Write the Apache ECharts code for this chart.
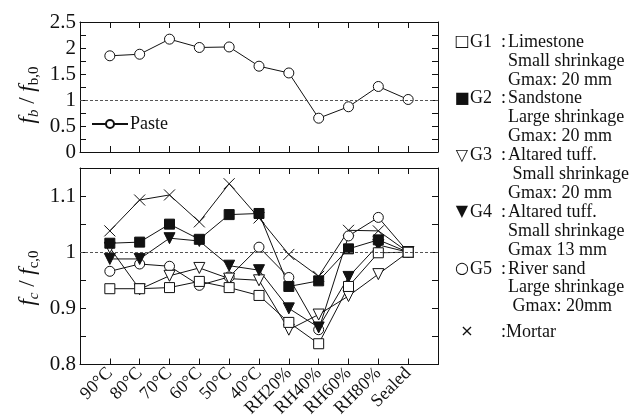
<!DOCTYPE html>
<html>
<head>
<meta charset="utf-8">
<script src="https://cdn.jsdelivr.net/npm/echarts@6/dist/echarts.min.js"></script>
<style>
  html, body { margin: 0; padding: 0; background: #fff; }
  #chart { width: 643px; height: 420px; }
</style>
</head>
<body>
<div id="chart"></div>
<script>
// Curing conditions along the x axis
const categories = ['90°C', '80°C', '70°C', '60°C', '50°C', '40°C', 'RH20%', 'RH40%', 'RH60%', 'RH80%', 'Sealed'];

// Upper panel: cement paste, f_b / f_b,0
const paste = [1.85, 1.88, 2.17, 2.01, 2.02, 1.65, 1.52, 0.65, 0.87, 1.26, 1.01];

// Lower panel: concretes and mortar, f_c / f_c,0
const g1 = [0.935, 0.935, 0.937, 0.948, 0.937, 0.923, 0.875, 0.837, 0.939, 0.999, 1.0];
const g2 = [1.016, 1.018, 1.050, 1.023, 1.067, 1.069, 0.939, 0.949, 1.006, 1.022, 1.0];
const g3 = [1.008, 0.934, 0.958, 0.972, 0.953, 0.950, 0.862, 0.889, 0.922, 0.961, 1.0];
const g4 = [0.988, 0.988, 1.025, 1.020, 0.976, 0.968, 0.900, 0.866, 0.956, 1.013, 1.0];
const g5 = [0.966, 0.979, 0.975, 0.941, 0.956, 1.009, 0.955, 0.862, 1.029, 1.062, 1.0];
const mortar = [1.038, 1.093, 1.102, 1.054, 1.122, 1.061, 0.996, 0.957, 1.039, 1.038, 1.0];

// Legend wording for the aggregate groups
const groupLegend = [
  { sym: '□', code: 'G1', lines: ['Limestone', 'Small shrinkage', 'Gmax: 20 mm'] },
  { sym: '■', code: 'G2', lines: ['Sandstone', 'Large shrinkage', 'Gmax: 20 mm'] },
  { sym: '▽', code: 'G3', lines: ['Altared tuff.', ' Small shrinkage', 'Gmax: 20 mm'] },
  { sym: '▼', code: 'G4', lines: ['Altared tuff.', 'Small shrinkage', 'Gmax 13 mm'] },
  { sym: '○', code: 'G5', lines: ['River sand', 'Large shrinkage', ' Gmax: 20mm'] }
];
const mortarLegend = { sym: '×', text: ':Mortar' };

const SERIF = '"Liberation Serif", "Times New Roman", serif';
const BLACK = '#111';

const pts = arr => arr.map((v, i) => [i, v]);

function frameX(gridIndex, position, withLabels) {
  return {
    type: 'value', gridIndex, position, min: -1, max: 11, interval: 1,
    axisLine: { show: true, onZero: false, lineStyle: { color: BLACK, width: 1 } },
    axisTick: { show: true, inside: true, length: 6, lineStyle: { color: BLACK } },
    splitLine: { show: false },
    axisLabel: withLabels ? {
      show: true, rotate: 45, margin: 6, color: BLACK,
      fontFamily: SERIF, fontSize: 18,
      formatter: v => (categories[v] !== undefined ? categories[v] : '')
    } : { show: false }
  };
}

function frameY(gridIndex, position, min, max, step, labelStep, withLabels) {
  return {
    type: 'value', gridIndex, position, min, max, interval: step,
    axisLine: { show: true, onZero: false, lineStyle: { color: BLACK, width: 1 } },
    axisTick: { show: true, inside: true, length: 6, lineStyle: { color: BLACK } },
    splitLine: { show: false },
    axisLabel: withLabels ? {
      show: true, margin: 4, color: BLACK, fontFamily: SERIF, fontSize: 21,
      formatter: v => {
        const r = Math.round(v * 1000);
        const s = Math.round(labelStep * 1000);
        return r % s === 0 ? String(r / 1000) : '';
      }
    } : { show: false }
  };
}

const unityLine = {
  silent: true, symbol: 'none', animation: false,
  label: { show: false },
  lineStyle: { type: [3, 2], color: '#555', width: 1 },
  data: [{ yAxis: 1 }]
};

function lowerSeries(name, data, symbol, filled, opts) {
  return Object.assign({
    name, type: 'line', xAxisIndex: 2, yAxisIndex: 2,
    data: pts(data), symbol, symbolSize: 10, showAllSymbol: true,
    lineStyle: { color: BLACK, width: 1 },
    itemStyle: { color: filled ? BLACK : '#fff', borderColor: BLACK, borderWidth: 1 },
    emphasis: { disabled: true }
  }, opts || {});
}

// Legend graphics on the right
const graphics = [];
const legendTop = 42, lineGap = 18.9;
groupLegend.forEach((g, gi) => {
  g.lines.forEach((t, li) => {
    const y = legendTop + (gi * 3 + li) * lineGap;
    if (li === 0) {
      graphics.push({ type: 'text', x: 462, y, style: {
        text: g.sym, fill: BLACK, fontFamily: '"DejaVu Sans", sans-serif', fontSize: 16,
        align: 'center', verticalAlign: 'middle' } });
      graphics.push({ type: 'text', x: 470, y, style: {
        text: g.code, fill: BLACK, fontFamily: SERIF, fontSize: 18,
        align: 'left', verticalAlign: 'middle' } });
      graphics.push({ type: 'text', x: 501, y, style: {
        text: ':', fill: BLACK, fontFamily: SERIF, fontSize: 18,
        align: 'left', verticalAlign: 'middle' } });
    }
    graphics.push({ type: 'text', x: 508, y, style: {
      text: t, fill: BLACK, fontFamily: SERIF, fontSize: 18,
      align: 'left', verticalAlign: 'middle' } });
  });
});
graphics.push({ type: 'text', x: 467, y: 332, style: {
  text: mortarLegend.sym, fill: BLACK, fontFamily: '"DejaVu Sans", sans-serif', fontSize: 16,
  align: 'center', verticalAlign: 'middle' } });
graphics.push({ type: 'text', x: 501, y: 332, style: {
  text: mortarLegend.text, fill: BLACK, fontFamily: SERIF, fontSize: 18,
  align: 'left', verticalAlign: 'middle' } });

// Rotated y-axis titles with subscripts
const titleRich = {
  i: { fontFamily: SERIF, fontStyle: 'italic', fontSize: 23, lineHeight: 28, fill: BLACK },
  n: { fontFamily: SERIF, fontSize: 23, lineHeight: 28, fill: BLACK },
  si: { fontFamily: SERIF, fontStyle: 'italic', fontSize: 15, lineHeight: 14, verticalAlign: 'bottom', fill: BLACK },
  s: { fontFamily: SERIF, fontSize: 15, lineHeight: 14, verticalAlign: 'bottom', fill: BLACK }
};
graphics.push({ type: 'text', x: 28, y: 95, rotation: Math.PI / 2, style: {
  text: '{i|f}{si|b}{n| / }{i|f}{s|b,0}', rich: titleRich, align: 'center', verticalAlign: 'middle' } });
graphics.push({ type: 'text', x: 28, y: 278, rotation: Math.PI / 2, style: {
  text: '{i|f}{si|c}{n| / }{i|f}{s|c,0}', rich: titleRich, align: 'center', verticalAlign: 'middle' } });

const option = {
  animation: false,
  backgroundColor: '#fff',
  grid: [
    { left: 80, top: 22, width: 358, height: 130 },
    { left: 80, top: 168, width: 358, height: 201 }
  ],
  xAxis: [
    frameX(0, 'bottom', false),
    frameX(0, 'top', false),
    frameX(1, 'bottom', true),
    frameX(1, 'top', false)
  ],
  yAxis: [
    frameY(0, 'left', 0, 2.5, 0.25, 0.5, true),
    frameY(0, 'right', 0, 2.5, 0.25, 0.5, false),
    frameY(1, 'left', 0.8, 1.15, 0.05, 0.1, true),
    frameY(1, 'right', 0.8, 1.15, 0.05, 0.1, false)
  ],
  legend: {
    data: ['Paste'], left: 86, top: 110, itemWidth: 36, itemHeight: 10, itemGap: 0,
    selectedMode: false,
    textStyle: { fontFamily: SERIF, fontSize: 18, color: BLACK, padding: [0, 0, 0, -3] }
  },
  graphic: graphics,
  series: [
    {
      name: 'Paste', type: 'line', xAxisIndex: 0, yAxisIndex: 0,
      data: pts(paste), symbol: 'circle', symbolSize: 10,
      lineStyle: { color: BLACK, width: 1 },
      itemStyle: { color: '#fff', borderColor: BLACK, borderWidth: 1 },
      emphasis: { disabled: true },
      markLine: unityLine
    },
    lowerSeries('Mortar', mortar, 'path://M0,0L10,10M10,0L0,10', false,
      { symbolSize: 11, itemStyle: { color: 'none', borderColor: BLACK, borderWidth: 1 }, markLine: unityLine }),
    lowerSeries('G5', g5, 'circle', false),
    lowerSeries('G3', g3, 'triangle', false, { symbolRotate: 180, symbolSize: 11 }),
    lowerSeries('G4', g4, 'triangle', true, { symbolRotate: 180, symbolSize: 11 }),
    lowerSeries('G2', g2, 'rect', true),
    lowerSeries('G1', g1, 'rect', false)
  ]
};

const chart = echarts.init(document.getElementById('chart'), null, { renderer: 'canvas' });
chart.setOption(option);
</script>
</body>
</html>
